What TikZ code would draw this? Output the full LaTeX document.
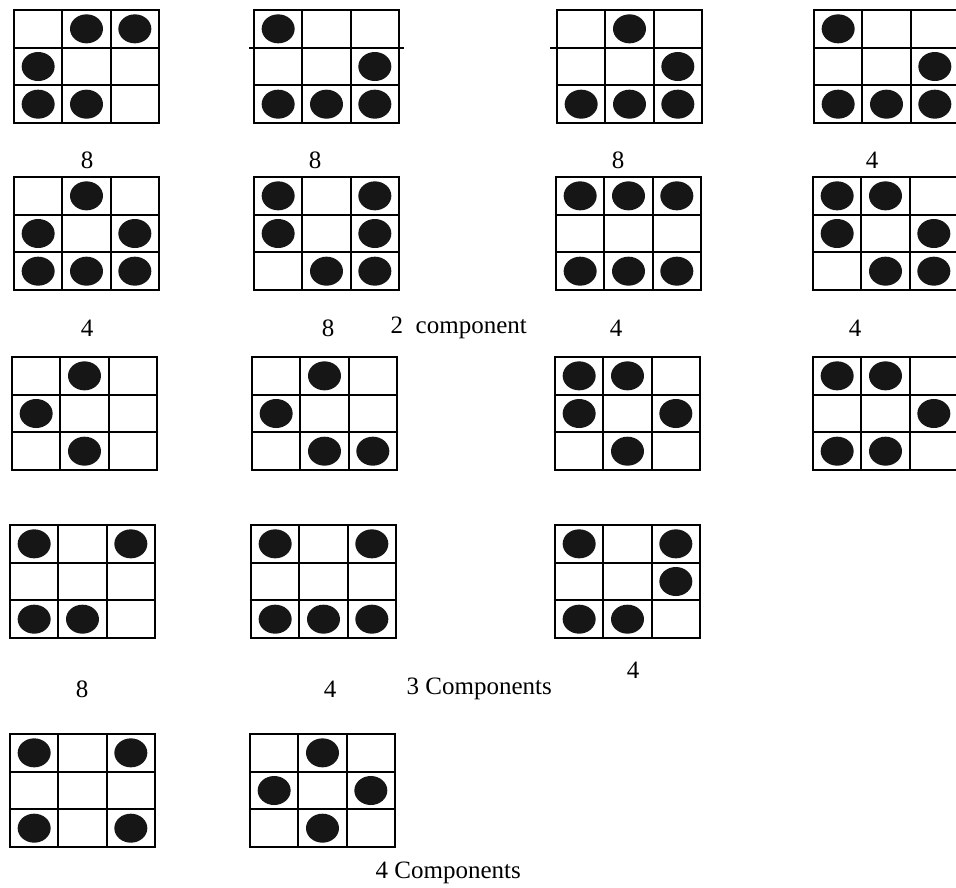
\documentclass[tikz,border=0pt]{standalone}
\usepackage{fontspec}
\setmainfont{Liberation Serif}
\usepackage{xcolor}
\usepackage{tikz}
\usetikzlibrary{positioning}
\definecolor{stonecol}{RGB}{22,22,22}
% 3x3 board: #1 name, #2 x, #3 y (top left), #4 stones as col/row
\newcommand\board[4]{%
  \begin{scope}[shift={(#2,#3)}]
    \coordinate (#1) at (0,0);
    \draw[cell] (0,0) rectangle (145,113);
    \foreach \c in {1,2} \draw[cell] (\c*48.33,0) -- (\c*48.33,113);
    \foreach \r in {1,2} \draw[cell] (0,\r*37.67) -- (145,\r*37.67);
    \foreach \c/\r in {#4}
      \fill[stone] ({(\c-0.5)*48.33},{(\r-0.5)*37.67}) ellipse (16.5 and 14.5);
  \end{scope}}

\begin{document}
\begin{tikzpicture}[
   x=1pt, y=-1pt,
   cell/.style={line width=1.8pt, black},
   stone/.style={fill=stonecol},
   lbl/.style={inner sep=0pt, font=\fontsize{25}{29}\selectfont},
]
\useasboundingbox (0,0) rectangle (956,887);
\clip (0,0) rectangle (956,887);
% row 1
\board{b1}{14}{10}{2/1,3/1,1/2,1/3,2/3}
\board{b2}{254}{10}{1/1,3/2,1/3,2/3,3/3}
\board{b3}{557}{10}{2/1,3/2,1/3,2/3,3/3}
\board{b4}{814}{10}{1/1,3/2,1/3,2/3,3/3}
\draw[cell] ([xshift=-5pt]b2 |- 0,47.67) -- +(155,0);
\draw[cell] ([xshift=-7pt]b3 |- 0,47.67) -- +(152,0);
\node[lbl] (n1) at (87,160) {8};
\node[lbl] (n2) at (315,160) {8};
\node[lbl] (n3) at (618,160) {8};
\node[lbl] (n4) at (872,160) {4};
% row 2
\board{b5}{14}{177}{2/1,1/2,3/2,1/3,2/3,3/3}
\board{b6}{254}{177}{1/1,3/1,1/2,3/2,2/3,3/3}
\board{b7}{556}{177}{1/1,2/1,3/1,1/3,2/3,3/3}
\board{b8}{813}{177}{1/1,2/1,1/2,3/2,2/3,3/3}
\node[lbl] (n5) at (87,328) {4};
\node[lbl] (n6) at (328,328) {8};
\node[lbl, anchor=east] (c2) at (527,328) {2\ \ component};
\node[lbl] (n7) at (616,328) {4};
\node[lbl] (n8) at (855,328) {4};
% row 3
\board{b9}{12}{357}{2/1,1/2,2/3}
\board{b10}{252}{357}{2/1,1/2,2/3,3/3}
\board{b11}{555}{357}{1/1,2/1,1/2,3/2,2/3}
\board{b12}{813}{357}{1/1,2/1,3/2,1/3,2/3}
% row 4
\board{b13}{10}{525}{1/1,3/1,1/3,2/3}
\board{b14}{251}{525}{1/1,3/1,1/3,2/3,3/3}
\board{b15}{555}{525}{1/1,3/1,3/2,1/3,2/3}
\node[lbl] (n13) at (82,689) {8};
\node[lbl] (n14) at (330,689) {4};
\node[lbl, anchor=east] (c3) at (552,689) {3 Components};
\node[lbl] (n15) at (633,670) {4};
% row 5
\board{b16}{10}{734}{1/1,3/1,1/3,3/3}
\board{b17}{250}{734}{2/1,1/2,3/2,2/3}
\node[lbl, anchor=east] (c4) at (521,873) {4 Components};
\end{tikzpicture}
\end{document}
